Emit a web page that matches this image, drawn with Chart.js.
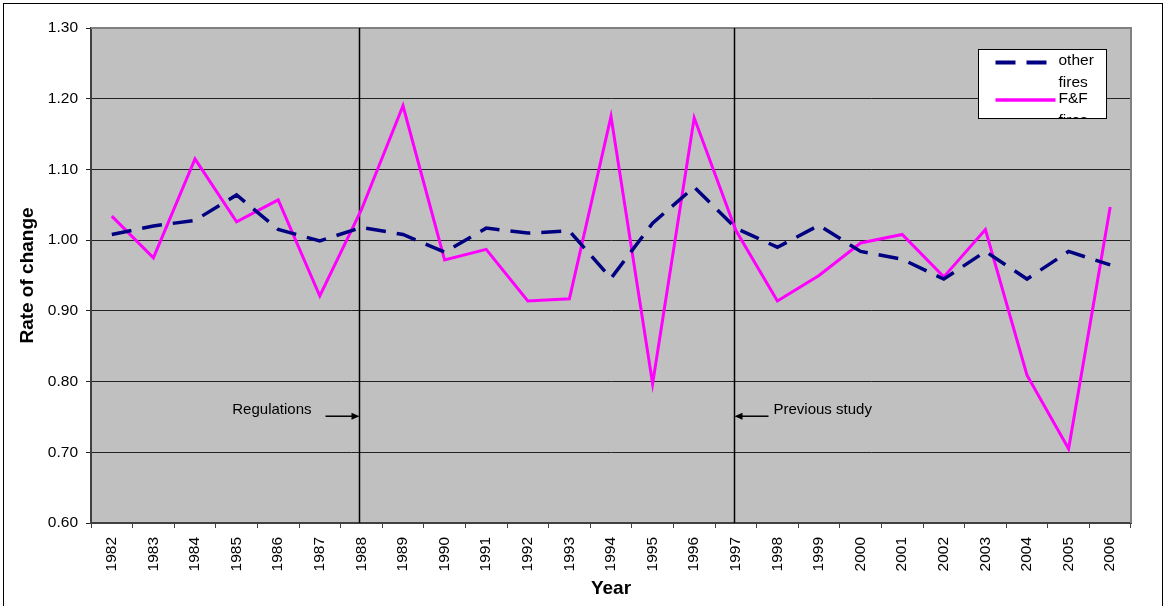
<!DOCTYPE html>
<html>
<head>
<meta charset="utf-8">
<script src="https://cdn.jsdelivr.net/npm/chart.js@4.4.1/dist/chart.umd.min.js"></script>
<style>
  html, body { margin: 0; padding: 0; background: #ffffff; }
  #wrap { width: 1166px; height: 606px; position: relative; }
</style>
</head>
<body>
<div id="wrap"><canvas id="c" width="1166" height="606"></canvas></div>
<script>
// ---- data ----
const years = ['1982','1983','1984','1985','1986','1987','1988','1989','1990','1991','1992','1993','1994','1995','1996','1997','1998','1999','2000','2001','2002','2003','2004','2005','2006'];
const otherFires = [1.008,1.020,1.028,1.064,1.015,0.999,1.018,1.008,0.983,1.017,1.010,1.013,0.946,1.024,1.075,1.017,0.990,1.021,0.984,0.973,0.945,0.984,0.945,0.984,0.965];
const ffFires = [1.034,0.975,1.115,1.026,1.057,0.921,1.043,1.190,0.972,0.987,0.914,0.917,1.175,0.797,1.173,1.014,0.914,0.950,0.996,1.008,0.948,1.015,0.809,0.705,1.047];
const seriesLabels = ['other fires', 'F&F fires'];
const yTicks = [0.60, 0.70, 0.80, 0.90, 1.00, 1.10, 1.20, 1.30];
const markers = [ { year: '1988', text: 'Regulations', side: 'left' }, { year: '1997', text: 'Previous study', side: 'right' } ];
const markerLevel = 0.751;

const FONT = '"Liberation Sans", Arial, sans-serif';

const decor = {
  id: 'decor',
  beforeDraw(chart) {
    const { ctx, chartArea: a } = chart;
    ctx.save();
    ctx.fillStyle = '#ffffff';
    ctx.fillRect(0, 0, chart.width, chart.height);
    ctx.fillStyle = '#C0C0C0';
    ctx.fillRect(a.left, a.top, a.right - a.left, a.bottom - a.top);
    ctx.restore();
  },
  beforeDatasetsDraw(chart) {
    const { ctx, chartArea: a, scales } = chart;
    ctx.save();
    // plot border top/right
    ctx.strokeStyle = '#808080';
    ctx.lineWidth = 2;
    ctx.beginPath();
    ctx.moveTo(a.left, a.top); ctx.lineTo(a.right, a.top); ctx.lineTo(a.right, a.bottom);
    ctx.stroke();
    // marker lines
    const yPix = scales.y.getPixelForValue(markerLevel);
    markers.forEach(m => {
      const x = Math.round(scales.x.getPixelForValue(years.indexOf(m.year))) - 1.5;
      ctx.strokeStyle = '#000';
      ctx.lineWidth = 1.5;
      ctx.beginPath(); ctx.moveTo(x, a.top); ctx.lineTo(x, a.bottom); ctx.stroke();
      // arrow
      const len = 34;
      const dir = m.side === 'left' ? 1 : -1;
      const x0 = x - dir * len;
      ctx.lineWidth = 1.5;
      ctx.beginPath(); ctx.moveTo(x0, yPix); ctx.lineTo(x - dir * 6, yPix); ctx.stroke();
      ctx.fillStyle = '#000';
      ctx.beginPath();
      ctx.moveTo(x, yPix); ctx.lineTo(x - dir * 8, yPix - 3.5); ctx.lineTo(x - dir * 8, yPix + 3.5); ctx.closePath(); ctx.fill();
      // text
      ctx.font = '15px ' + FONT;
      ctx.textBaseline = 'middle';
      if (m.side === 'left') {
        ctx.textAlign = 'right';
        ctx.fillText(m.text, x0 - 14, yPix - 6.5);
      } else {
        ctx.textAlign = 'left';
        ctx.fillText(m.text, x0 + 5, yPix - 6.5);
      }
    });
    ctx.restore();
  },
  afterDraw(chart) {
    const { ctx, chartArea: a } = chart;
    ctx.save();
    // outer frame
    ctx.strokeStyle = '#000';
    ctx.lineWidth = 1;
    ctx.strokeRect(3.5, 3.5, chart.width - 7, chart.height + 4);
    // legend
    const bx = a.right - 152.5, by = a.top + 21.5, bw = 128, bh = 69;
    ctx.fillStyle = '#fff';
    ctx.fillRect(bx, by, bw, bh);
    ctx.beginPath(); ctx.rect(bx, by, bw, bh); ctx.clip();
    ctx.font = '15.5px ' + FONT;
    ctx.textBaseline = 'middle';
    ctx.textAlign = 'left';
    chart.data.datasets.forEach((ds, i) => {
      const ty = by + 11.5 + i * 37.6;
      ctx.strokeStyle = ds.borderColor;
      ctx.lineWidth = ds.borderWidth + 0.5;
      ctx.setLineDash(ds.borderDash || []);
      ctx.beginPath(); ctx.moveTo(bx + 17, ty + 1.5); ctx.lineTo(bx + 77, ty + 1.5); ctx.stroke();
      ctx.setLineDash([]);
      ctx.fillStyle = '#000';
      ds.label.split(' ').forEach((w, j) => ctx.fillText(w, bx + 80, ty + j * 22));
    });
    ctx.restore();
    ctx.save();
    ctx.strokeStyle = '#000';
    ctx.lineWidth = 1;
    ctx.strokeRect(bx, by, bw, bh);
    ctx.restore();
  }
};

new Chart(document.getElementById('c'), {
  type: 'line',
  data: {
    labels: years,
    datasets: [
      { label: seriesLabels[0], data: otherFires, borderColor: '#000080', borderWidth: 3.5, borderDash: [20, 11], pointRadius: 0, fill: false, tension: 0 },
      { label: seriesLabels[1], data: ffFires, borderColor: '#FF00FF', borderWidth: 3, pointRadius: 0, fill: false, tension: 0 }
    ]
  },
  options: {
    responsive: false,
    animation: false,
    devicePixelRatio: 1,
    layout: { padding: { left: 0, top: 28, right: 35, bottom: 0 } },
    plugins: { legend: { display: false }, tooltip: { enabled: false } },
    scales: {
      x: {
        type: 'category',
        offset: true,
        grid: { display: true, drawOnChartArea: false, drawTicks: true, tickLength: 5, offset: true, color: '#404040', lineWidth: 1 },
        border: { display: true, color: '#404040', width: 2 },
        ticks: { color: '#000', font: { family: FONT, size: 15.5 }, minRotation: 90, maxRotation: 90, padding: 9, autoSkip: false },
        title: { display: true, text: 'Year', color: '#000', font: { family: FONT, size: 19, weight: 'bold' }, padding: { top: 0, bottom: 6 } },
        afterFit(s) { s.height = 83; }
      },
      y: {
        min: 0.6, max: 1.3,
        afterBuildTicks(s) { s.ticks = yTicks.map(v => ({ value: v })); },
        grid: { color: '#222', lineWidth: 1, drawTicks: true, tickLength: 5 },
        border: { display: true, color: '#404040', width: 2 },
        ticks: { color: '#000', font: { family: FONT, size: 15.5 }, padding: 8, callback: v => Number(v).toFixed(2) },
        title: { display: true, text: 'Rate of change', color: '#000', font: { family: FONT, size: 19, weight: 'bold' }, padding: { top: 16, bottom: 0 } },
        afterFit(s) { s.width = 91; }
      }
    }
  },
  plugins: [decor]
});
</script>
</body>
</html>
